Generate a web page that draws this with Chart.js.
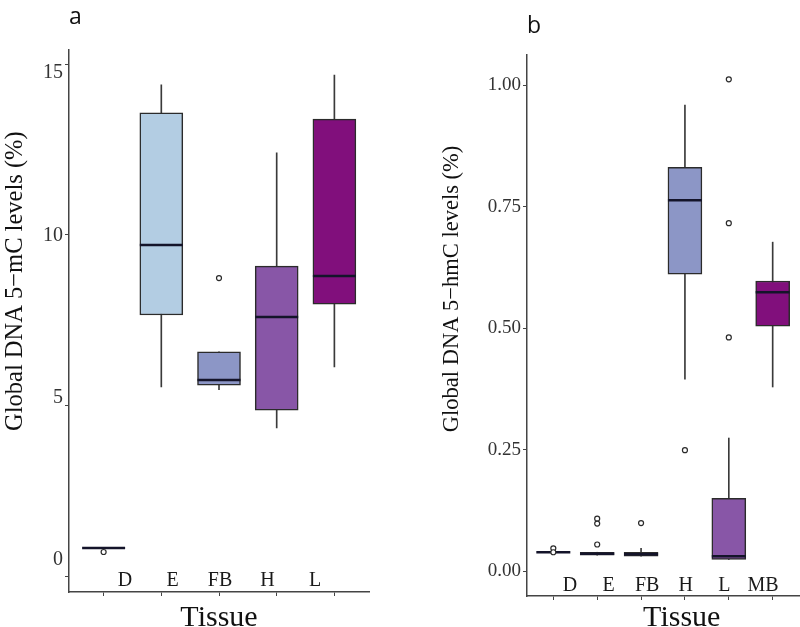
<!DOCTYPE html>
<html><head><meta charset="utf-8">
<script src="https://cdn.jsdelivr.net/npm/chart.js@4.4.0/dist/chart.umd.min.js"></script>
<style>html,body{margin:0;padding:0;background:#fff;overflow:hidden}.p{position:absolute;top:0;width:400px;height:627px}</style>
</head><body>
<div class="p" style="left:0"><canvas id="ca" width="400" height="627"></canvas></div>
<div class="p" style="left:400px"><canvas id="cb" width="400" height="627"></canvas></div>
<script>
// ---------- Panel a : 5-mC ----------
const tissuesA = ['D', 'E', 'FB', 'H', 'L'];
const minA = [0.85, 5.56, 5.48, 4.36, 6.14];
const q1A  = [0.85, 7.66, 5.61, 4.88, 7.98];
const medA = [0.85, 9.71, 5.76, 7.60, 8.80];
const q3A  = [0.85, 13.57, 6.58, 9.09, 13.39];
const maxA = [0.85, 14.39, 6.58, 12.40, 14.68];
const outA = [[0.73], [], [8.74], [], []];
const yTicksA = [0, 5, 10, 15];

// ---------- Panel b : 5-hmC ----------
const tissuesB = ['D', 'E', 'FB', 'H', 'L', 'MB'];
const minB = [0.039, 0.033, 0.031, 0.395, 0.024, 0.379];
const q1B  = [0.039, 0.033, 0.031, 0.611, 0.024, 0.504];
const medB = [0.039, 0.036, 0.035, 0.763, 0.031, 0.574];
const q3B  = [0.039, 0.039, 0.039, 0.831, 0.150, 0.597];
const maxB = [0.039, 0.039, 0.047, 0.959, 0.274, 0.677];
const outB = [[0.047, 0.039], [0.108, 0.098, 0.055], [0.099], [0.249], [1.012, 0.716, 0.481], []];
const yTicksB = [0, 0.25, 0.5, 0.75, 1.0];

const paletteA = ['#edf8fb', '#b3cde3', '#8c96c6', '#8856a7', '#810f7c'];
const paletteB = ['#edf8fb', '#bfd3e6', '#9ebcda', '#8c96c6', '#8856a7', '#810f7c'];

const SERIF = 'Liberation Serif';
const NB = '\u00a0';

function buildDatasets(tissues, mins, q1s, meds, q3s, maxs, outs, colors, boxPx) {
  const idx = tissues.map((_, i) => i + 1);
  const outlierPts = [];
  outs.forEach((arr, i) => arr.forEach(v => outlierPts.push({x: i + 1, y: v})));
  return [
    {type: 'bar', label: 'whisker', data: idx.map((x, i) => ({x, y: [mins[i], maxs[i]]})),
     backgroundColor: '#3a3a3a', borderWidth: 0, barThickness: 1, grouped: false, order: 4},
    {type: 'bar', label: 'box', data: idx.map((x, i) => ({x, y: [q1s[i], q3s[i]]})),
     backgroundColor: colors, borderColor: '#2b2b2b', borderWidth: 1.5, borderSkipped: false,
     barThickness: boxPx, grouped: false, order: 3},
    {type: 'line', label: 'median', data: idx.map((x, i) => ({x, y: meds[i]})), showLine: false,
     pointStyle: 'line', pointRadius: boxPx / 2, pointBorderWidth: 2.5, pointBorderColor: '#14142a', order: 2},
    {type: 'line', label: 'outlier', data: outlierPts, showLine: false, pointStyle: 'circle',
     pointRadius: 2.5, pointBackgroundColor: '#ffffff', pointBorderColor: '#2a2a2a', pointBorderWidth: 1.2, order: 1}
  ];
}

function setTicks(values) { return s => { s.ticks = values.map(v => ({value: v})); }; }

function makeChart(id, o) {
  const n = o.tissues.length;
  const idxTicks = o.tissues.map((_, i) => i + 1);
  const scales = {
    x: {type: 'linear', bounds: 'data', offset: false, min: 0.4, max: n + 0.6, afterBuildTicks: setTicks(idxTicks),
        ticks: {display: false},
        grid: {offset: false, drawOnChartArea: false, tickLength: 4, color: '#444', lineWidth: 1},
        border: {color: '#444', width: 1.5}, afterFit: s => { s.height = 4; }},
    xl: {type: 'linear', bounds: 'data', offset: false, position: 'bottom', weight: 1, min: o.xlMin, max: o.xlMax,
         afterBuildTicks: setTicks(idxTicks),
         ticks: {callback: v => o.tissues[v - 1], mirror: true, padding: o.xlPad, autoSkip: false, maxRotation: 0, minRotation: 0,
                 font: {family: SERIF, size: 20}, color: '#1a1a1a'},
         grid: {display: false, offset: false, drawTicks: false}, border: {display: false},
         title: {display: true, text: o.xTitle, font: {family: SERIF, size: 30}, color: '#111', padding: {top: 0, bottom: -9}},
         afterFit: s => { s.height = o.xlHeight; }},
    y: {type: 'linear', bounds: 'data', beginAtZero: false, min: o.yMin, max: o.yMax, afterBuildTicks: setTicks(o.yTicks),
        grid: {drawOnChartArea: false, tickLength: 4, color: '#444', lineWidth: 1},
        border: {color: '#444', width: 1.5}}
  };
  if (o.ylMin !== undefined) {
    scales.y.ticks = {display: false};
    scales.y.afterFit = s => { s.width = 5; };
    scales.yl = {type: 'linear', bounds: 'data', beginAtZero: false, position: 'left', weight: 1, min: o.ylMin, max: o.ylMax,
      afterBuildTicks: setTicks(o.yTicks),
      ticks: {padding: 1, font: {family: SERIF, size: 20}, color: '#333'},
      grid: {display: false, drawTicks: false}, border: {display: false},
      title: {display: true, text: o.yTitle, font: {family: SERIF, size: o.yTitleSize}, color: '#111', padding: {top: o.yTitlePad, bottom: 0}},
      afterFit: s => { s.width = o.yAxisWidth - 5; }};
  } else {
    scales.y.ticks = {padding: 2, font: {family: SERIF, size: 19}, color: '#333', callback: v => v.toFixed(2)};
    scales.y.title = {display: true, text: o.yTitle, font: {family: SERIF, size: o.yTitleSize}, color: '#111', padding: {top: o.yTitlePad, bottom: 0}};
    scales.y.afterFit = s => { s.width = o.yAxisWidth; };
  }
  return new Chart(document.getElementById(id), {
    type: 'bar',
    data: {datasets: buildDatasets(o.tissues, o.mins, o.q1s, o.meds, o.q3s, o.maxs, o.outs, o.colors, o.boxPx)},
    options: {
      responsive: false, animation: false, events: [],
      layout: {autoPadding: false, padding: {left: 0, right: o.padRight, top: 0, bottom: 0}},
      plugins: {
        legend: {display: false}, tooltip: {enabled: false},
        title: {display: true, text: o.panel, align: 'start', fullSize: false,
                font: {family: 'Open Sans', size: 23, weight: 'normal'}, color: '#111',
                padding: {top: o.panelPadTop, bottom: o.panelPadBottom}}
      },
      scales
    }
  });
}

makeChart('ca', {
  panel: 'a', panelPadTop: 3.6, panelPadBottom: 18.8,
  tissues: tissuesA, mins: minA, q1s: q1A, meds: medA, q3s: q3A, maxs: maxA, outs: outA, colors: paletteA,
  boxPx: 43, padRight: 31,
  yMin: -0.44, yMax: 15.41, yTicks: yTicksA,
  ylMin: -0.987, ylMax: 15.706,
  yAxisWidth: 69, yTitle: NB.repeat(13) + 'Global DNA 5\u2212mC levels (%)', yTitleSize: 24.5, yTitlePad: 0.6,
  xlMin: -0.179, xlMax: 6.137, xlPad: 3, xlHeight: 31, xTitle: 'Tissue'
});

makeChart('cb', {
  panel: 'b', panelPadTop: 12.6, panelPadBottom: 14.8,
  tissues: tissuesB, mins: minB, q1s: q1B, meds: medB, q3s: q3B, maxs: maxB, outs: outB, colors: paletteB,
  boxPx: 34, padRight: 1,
  yMin: -0.051, yMax: 1.062, yTicks: yTicksB,
  yAxisWidth: 127, yTitle: NB.repeat(13) + 'Global DNA 5\u2212hmC levels (%)', yTitleSize: 22.5, yTitlePad: 38.5,
  xlMin: -0.114, xlMax: 6.933, xlPad: 2, xlHeight: 27, xTitle: NB.repeat(5) + 'Tissue'
});
</script>
</body></html>
